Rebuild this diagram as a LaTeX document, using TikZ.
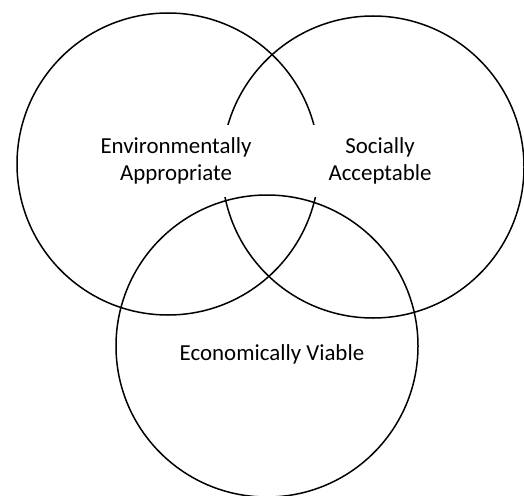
\documentclass[tikz,border=0pt]{standalone}
\usepackage{fontspec}
\setmainfont{Carlito}
\usetikzlibrary{positioning}
\tikzset{
    ring/.style={circle,draw,line width=1.5pt,minimum size=302pt,inner sep=0pt},
    label box/.style={fill=white,align=center,minimum width=140pt,minimum height=72pt,inner sep=0pt,
      font=\fontsize{22.9}{27}\selectfont},
  }

\begin{document}
\begin{tikzpicture}[x=1pt,y=-1pt]
							\useasboundingbox (0,0) rectangle (524,495);
							% the two upper sets, their labels are boxed in white
							\node[ring] (env) at (168,164) {};
							\node[ring] (soc) at (373,167) {};
							\node[label box] (envlabel) at (176,161) {Environmentally\\Appropriate};
							\node[label box] (soclabel) at (380,161) {Socially\\Acceptable};
							% lower set goes over the boxes
							\node[ring] (eco) at (267,346) {};
							\node[font=\fontsize{22.9}{27}\selectfont] (ecolabel) at (272,354) {Economically Viable};
						\end{tikzpicture}
\end{document}
